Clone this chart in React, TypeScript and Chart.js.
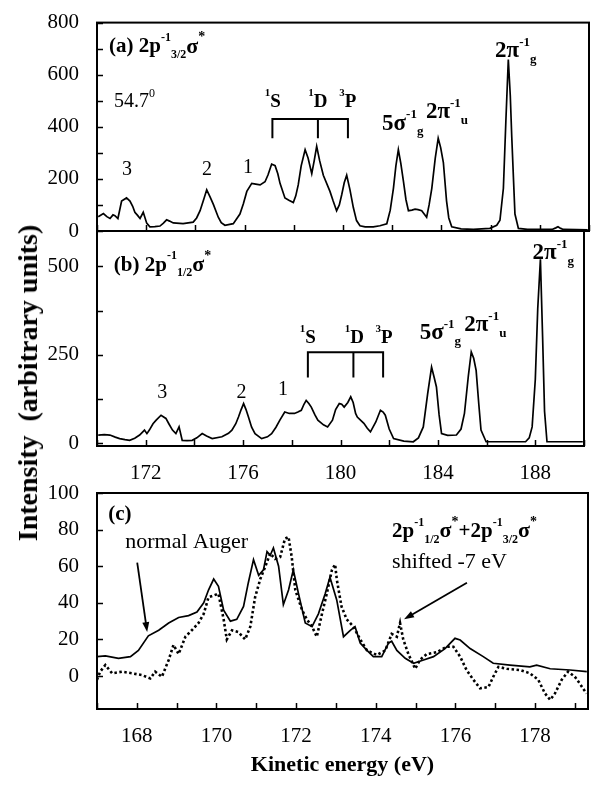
import React, { useEffect, useRef } from 'react';
import { Chart, registerables } from 'chart.js';

Chart.register(...registerables);

const FONT = '"Liberation Serif", "Times New Roman", serif';

// ---------- Panel (a): 2p-1 3/2 sigma* ----------
const energyA = [170.05,170.26,170.4,170.53,170.65,170.73,170.85,171.0,171.2,171.34,171.45,171.54,171.65,171.75,171.88,172.02,172.15,172.35,172.56,172.7,172.83,172.95,173.1,173.5,173.91,174.05,174.19,174.35,174.46,174.6,174.73,174.93,175.05,175.2,175.54,175.81,175.95,176.09,176.29,176.45,176.63,176.83,176.95,177.1,177.24,177.35,177.44,177.64,177.8,177.98,178.08,178.18,178.3,178.46,178.58,178.73,178.83,178.93,179.05,179.2,179.47,179.6,179.74,179.85,179.95,180.05,180.15,180.28,180.42,180.55,180.69,180.9,181.23,181.5,181.78,181.92,182.05,182.15,182.25,182.35,182.46,182.56,182.66,182.8,182.93,183.05,183.2,183.4,183.5,183.61,183.75,183.87,183.97,184.08,184.21,184.3,184.42,184.8,185.3,185.97,186.25,186.38,186.52,186.62,186.72,186.8,186.86,186.93,186.99,187.13,187.5,188.0,188.5,188.65,188.74,188.85,188.95,189.5,189.95];
const intensityA = [55,67,55,48,62,59,48,115,127,115,95,72,60,48,72,30,16,17,19,30,43,38,31,28,34,50,78,125,158,130,102,53,32,22,28,65,105,152,183,180,177,189,215,257,251,220,183,127,118,109,135,177,250,312,280,220,270,325,270,214,152,115,78,100,140,185,214,160,90,40,20,16,16,20,28,80,164,250,312,260,189,120,78,80,84,82,78,53,100,164,280,356,320,263,115,50,16,8,6,10,22,41,164,420,658,520,362,200,65,10,6,6,6,12,16,10,6,5,4];

// ---------- Panel (b): 2p-1 1/2 sigma* ----------
const energyB = [170.05,170.3,170.53,170.75,170.93,171.15,171.34,171.55,171.75,171.85,171.95,172.05,172.15,172.3,172.43,172.63,172.83,172.95,173.1,173.24,173.37,173.5,173.7,173.91,174.1,174.32,174.5,174.73,175.13,175.4,175.54,175.7,175.81,175.92,176.02,176.12,176.22,176.35,176.49,176.76,177.0,177.17,177.35,177.51,177.71,177.9,178.11,178.25,178.39,178.5,178.59,178.7,178.8,178.95,179.07,179.3,179.47,179.67,179.8,179.95,180.05,180.15,180.3,180.42,180.52,180.62,180.69,180.96,181.1,181.23,181.45,181.64,181.75,181.84,182.0,182.18,182.6,182.99,183.2,183.4,183.58,183.74,183.85,183.94,184.05,184.15,184.4,184.76,184.95,185.09,185.25,185.37,185.47,185.57,185.68,185.77,185.98,186.5,187.0,187.6,187.75,187.87,188.0,188.1,188.21,188.3,188.38,188.48,189.0,189.95];
const intensityB = [23,24,23,17,13,10,8,14,23,30,37,27,37,55,65,79,70,55,37,27,46,8,7,8,15,27,20,13,18,28,37,55,74,95,112,95,74,45,27,13,18,27,45,65,88,84,84,88,93,110,121,112,102,80,65,52,46,65,95,112,110,102,115,131,115,84,74,56,42,32,60,93,88,79,40,13,6,4,15,46,140,215,185,159,80,27,22,23,40,84,190,258,240,206,110,37,4,4,4,4,15,46,180,380,520,300,90,4,4,4];

// ---------- Panel (c): normal Auger (solid) and shifted sum (dotted) ----------
const energyAuger = [167.0,167.21,167.54,167.84,168.04,168.29,168.55,168.8,169.05,169.3,169.51,169.68,169.8,169.93,170.05,170.18,170.35,170.51,170.68,170.8,170.93,171.06,171.18,171.27,171.35,171.43,171.56,171.68,171.81,171.93,172.06,172.23,172.4,172.56,172.73,172.85,173.02,173.19,173.36,173.48,173.61,173.78,173.94,174.15,174.32,174.4,174.53,174.74,174.95,175.2,175.45,175.74,175.99,176.12,176.37,176.7,176.95,177.37,177.87,178.04,178.38,178.88,179.3];
const intensityAuger = [10.6,11,9.7,10.6,14,22,25,29,32,33,35,40,47,53,49,36,30,31,38,51,63.6,55,58,68,66,70,60,39,47,58,45,29,27,34,45,54,41.6,21.5,25,27,18,14,10.6,10.6,18,19,14,9.7,7,8.8,10.6,15,20.6,19.7,15,10.6,7,6,5,6,4,3.3,2.4];
const energyShifted = [167.0,167.08,167.21,167.38,167.63,167.88,168.13,168.34,168.46,168.63,168.8,168.92,169.05,169.22,169.38,169.55,169.68,169.8,169.93,170.05,170.18,170.26,170.39,170.55,170.72,170.85,170.97,171.1,171.23,171.35,171.47,171.6,171.72,171.81,171.89,171.98,172.15,172.27,172.4,172.52,172.65,172.77,172.9,172.98,173.02,173.14,173.27,173.44,173.61,173.78,174.03,174.24,174.4,174.53,174.61,174.69,174.82,174.99,175.11,175.28,175.53,175.78,175.95,176.12,176.28,176.45,176.62,176.83,176.95,177.08,177.29,177.62,177.87,178.08,178.25,178.38,178.5,178.67,178.83,179.0,179.12,179.29];
const intensityShifted = [-2,2.4,6,1.5,2.4,1.5,0.5,-1.3,2.4,-0.4,8.8,17,12,21.5,25,29,34,43,44,45,31,20,25,24,20,27,43,53,60,67,64,65,75,76,65,47,36,31,27,21.5,34,45,58,61,53,38,31,27,20,14,11.5,14,23,21.5,29,20,12,4,8.8,12,13,16,16,10.6,3.3,-2,-6.7,-6,-0.4,5,4,3.3,1.5,-2,-9.5,-13,-9.5,-2,2.4,-0.4,-4,-9.5];

// ---------- ticks ----------
const xTicksAB = [170,172,174,176,178,180,182,184,186,188,190];
const xLabelsAB = [172,176,180,184,188];
const yTicksA = [0,100,200,300,400,500,600,700,800];
const yLabelsA = [0,200,400,600,800];
const yTicksB = [0,125,250,375,500];
const yLabelsB = [0,250,500];
const xTicksC = [167,168,169,170,171,172,173,174,175,176,177,178,179];
const xLabelsC = [168,170,172,174,176,178];
const yTicksC = [0,20,40,60,80,100];
const yLabelsC = [0,20,40,60,80,100];

type Part = { t: string; s: number; b?: boolean; dy?: number };
const big = (t: string, s = 21): Part => ({ t, s, b: true });
const reg = (t: string, s = 21): Part => ({ t, s });
const sup = (t: string, s = 12): Part => ({ t, s, b: true, dy: -9 });
const sub = (t: string, s = 12): Part => ({ t, s, b: true, dy: 8 });

type Note = { x: number; y: number; parts: Part[]; align?: 'left' | 'center' };
type Bracket = { xs: number[]; top: number; bottom: number };
type Arrow = { x0: number; y0: number; x1: number; y1: number };

const notesA: Note[] = [
  { x: 170.49, y: 707, parts: [big('(a) 2p'), sup('-1'), sub('3/2'), big('σ', 22), sup('*', 14)] },
  { x: 170.69, y: 496, parts: [reg('54.7', 20), { t: '0', s: 12, dy: -8 }] },
  { x: 171.22, y: 237, parts: [reg('3', 20)], align: 'center' },
  { x: 174.47, y: 237, parts: [reg('2', 20)], align: 'center' },
  { x: 176.14, y: 244, parts: [reg('1', 20)], align: 'center' },
  { x: 177.15, y: 493, parts: [sup('1', 11), big('S', 19)], align: 'center' },
  { x: 178.98, y: 493, parts: [sup('1', 11), big('D', 19)], align: 'center' },
  { x: 180.2, y: 493, parts: [sup('3', 11), big('P', 19)], align: 'center' },
  { x: 181.59, y: 411, parts: [big('5σ', 23), sup('-1', 13), sub('g', 13)] },
  { x: 183.37, y: 456, parts: [big('2π', 23), sup('-1', 13), sub('u', 13)] },
  { x: 186.18, y: 689, parts: [big('2π', 23), sup('-1', 13), sub('g', 13)] },
];
const bracketsA: Bracket[] = [{ xs: [177.13, 178.98, 180.2], top: 430, bottom: 356 }];

const notesB: Note[] = [
  { x: 170.69, y: 503, parts: [big('(b) 2p'), sup('-1'), sub('1/2'), big('σ', 22), sup('*', 14)] },
  { x: 172.68, y: 144, parts: [reg('3', 20)], align: 'center' },
  { x: 175.93, y: 144, parts: [reg('2', 20)], align: 'center' },
  { x: 177.64, y: 150, parts: [reg('1', 20)], align: 'center' },
  { x: 178.66, y: 297, parts: [sup('1', 11), big('S', 19)], align: 'center' },
  { x: 180.57, y: 297, parts: [sup('1', 11), big('D', 19)], align: 'center' },
  { x: 181.79, y: 297, parts: [sup('3', 11), big('P', 19)], align: 'center' },
  { x: 183.25, y: 311, parts: [big('5σ', 23), sup('-1', 13), sub('g', 13)] },
  { x: 185.08, y: 333, parts: [big('2π', 23), sup('-1', 13), sub('u', 13)] },
  { x: 187.89, y: 537, parts: [big('2π', 23), sup('-1', 13), sub('g', 13)] },
];
const bracketsB: Bracket[] = [{ xs: [178.66, 180.53, 181.75], top: 257, bottom: 186 }];

const notesC: Note[] = [
  { x: 167.28, y: 88, parts: [big('(c)')] },
  { x: 167.71, y: 73, parts: [reg('normal Auger', 22)] },
  {
    x: 174.41, y: 79,
    parts: [big('2p'), sup('-1'), sub('1/2'), big('σ', 22), sup('*', 14), big('+2p'), sup('-1'), sub('3/2'), big('σ', 22), sup('*', 14)],
  },
  { x: 174.41, y: 62, parts: [reg('shifted -7 eV', 22)] },
];
const arrowsC: Arrow[] = [
  { x0: 168.01, y0: 62, x1: 168.26, y1: 24 },
  { x0: 176.29, y0: 51, x1: 174.71, y1: 31 },
];

function drawParts(ctx: CanvasRenderingContext2D, x: number, y: number, parts: Part[], align: 'left' | 'center' = 'left') {
  const fontOf = (p: Part) => `${p.b ? 'bold ' : ''}${p.s}px ${FONT}`;
  const widths = parts.map((p) => { ctx.font = fontOf(p); return ctx.measureText(p.t).width; });
  const total = widths.reduce((a, b) => a + b, 0);
  let cx = align === 'center' ? x - total / 2 : x;
  ctx.textAlign = 'left';
  ctx.textBaseline = 'middle';
  ctx.fillStyle = '#000';
  parts.forEach((p, i) => {
    ctx.font = fontOf(p);
    ctx.fillText(p.t, cx, y + (p.dy || 0));
    cx += widths[i];
  });
}

const framePlugin = {
  id: 'frame',
  afterDraw(chart: any, _args: any, opts: any) {
    const { ctx, chartArea: a, scales } = chart;
    ctx.save();
    ctx.strokeStyle = '#000';
    ctx.lineWidth = 2;
    ctx.strokeRect(a.left, a.top, a.right - a.left, a.bottom - a.top);
    ctx.lineWidth = 1.5;
    ctx.beginPath();
    for (const v of opts.xTicks || []) {
      const px = Math.round(scales.x.getPixelForValue(v)) + 0.5;
      ctx.moveTo(px, a.bottom);
      ctx.lineTo(px, a.bottom - 6);
    }
    for (const v of opts.yTicks || []) {
      const py = Math.round(scales.y.getPixelForValue(v)) + 0.5;
      ctx.moveTo(a.left, py);
      ctx.lineTo(a.left + 6, py);
    }
    ctx.stroke();
    ctx.restore();
  },
};

const notesPlugin = {
  id: 'notes',
  afterDatasetsDraw(chart: any, _args: any, opts: any) {
    const { ctx, scales } = chart;
    const X = (v: number) => scales.x.getPixelForValue(v);
    const Y = (v: number) => scales.y.getPixelForValue(v);
    ctx.save();
    ctx.strokeStyle = '#000';
    ctx.fillStyle = '#000';
    ctx.lineWidth = 2;
    for (const b of (opts.brackets || []) as Bracket[]) {
      const yt = Y(b.top), yb = Y(b.bottom);
      ctx.beginPath();
      ctx.moveTo(X(b.xs[0]), yb);
      ctx.lineTo(X(b.xs[0]), yt);
      ctx.lineTo(X(b.xs[b.xs.length - 1]), yt);
      ctx.lineTo(X(b.xs[b.xs.length - 1]), yb);
      for (let i = 1; i < b.xs.length - 1; i++) {
        ctx.moveTo(X(b.xs[i]), yt);
        ctx.lineTo(X(b.xs[i]), yb);
      }
      ctx.stroke();
    }
    for (const ar of (opts.arrows || []) as Arrow[]) {
      const x0 = X(ar.x0), y0 = Y(ar.y0), x1 = X(ar.x1), y1 = Y(ar.y1);
      const ang = Math.atan2(y1 - y0, x1 - x0);
      const L = 10, W = 3.5;
      ctx.lineWidth = 1.8;
      ctx.beginPath();
      ctx.moveTo(x0, y0);
      ctx.lineTo(x1 - Math.cos(ang) * L * 0.8, y1 - Math.sin(ang) * L * 0.8);
      ctx.stroke();
      ctx.beginPath();
      ctx.moveTo(x1, y1);
      ctx.lineTo(x1 - Math.cos(ang) * L - Math.sin(ang) * W, y1 - Math.sin(ang) * L + Math.cos(ang) * W);
      ctx.lineTo(x1 - Math.cos(ang) * L + Math.sin(ang) * W, y1 - Math.sin(ang) * L - Math.cos(ang) * W);
      ctx.closePath();
      ctx.fill();
    }
    for (const n of (opts.notes || []) as Note[]) {
      drawParts(ctx, X(n.x), Y(n.y), n.parts, n.align || 'left');
    }
    ctx.restore();
  },
};

function axis(min: number, max: number, ticks: number[], labels: number[], size: number, horizontal: boolean, padding: number, extra: any = {}) {
  return {
    type: 'linear',
    min,
    max,
    afterBuildTicks: (s: any) => { s.ticks = ticks.map((v) => ({ value: v })); },
    afterFit: (s: any) => { if (horizontal) s.height = size; else s.width = size; },
    ticks: {
      display: labels.length > 0,
      autoSkip: false,
      maxRotation: 0,
      padding,
      color: '#000',
      font: { family: FONT, size: 21 },
      callback: (v: any) => (labels.includes(Number(v)) ? String(v) : ''),
    },
    grid: { display: false },
    border: { display: false },
    ...extra,
  };
}

function lineSet(xs: number[], ys: number[], dashed = false) {
  return {
    data: xs.map((x, i) => ({ x, y: ys[i] })),
    borderColor: '#000',
    borderWidth: dashed ? 2.6 : 1.7,
    borderDash: dashed ? [2.5, 2.5] : [],
    pointRadius: 0,
    fill: false,
    tension: 0,
  };
}

function baseOptions(padding: any, scales: any, plugins: any) {
  return {
    responsive: false,
    animation: false,
    events: [],
    layout: { padding },
    scales,
    plugins: { legend: { display: false }, tooltip: { enabled: false }, ...plugins },
  };
}

export default function App() {
  const refA = useRef<HTMLCanvasElement>(null);
  const refB = useRef<HTMLCanvasElement>(null);
  const refC = useRef<HTMLCanvasElement>(null);

  useEffect(() => {
    const chartA = new Chart(refA.current as HTMLCanvasElement, {
      type: 'line',
      data: { datasets: [lineSet(energyA, intensityA)] },
      options: baseOptions(
        { top: 15, right: 2, bottom: 785 - 231, left: 0 },
        {
          x: axis(170, 190, xTicksAB, [], 0, true, 0),
          y: axis(0, 800, yTicksA, yLabelsA, 97, false, 10),
        },
        { frame: { xTicks: xTicksAB, yTicks: yTicksA }, notes: { notes: notesA, brackets: bracketsA } },
      ),
      plugins: [framePlugin, notesPlugin],
    } as any);

    const chartB = new Chart(refB.current as HTMLCanvasElement, {
      type: 'line',
      data: { datasets: [lineSet(energyB, intensityB)] },
      options: baseOptions(
        { top: 231, right: 2, bottom: 785 - 446 - 40, left: 0 },
        {
          x: axis(170, 190, xTicksAB, xLabelsAB, 40, true, 7),
          y: axis(-8, 600, yTicksB, yLabelsB, 97, false, 10),
        },
        { frame: { xTicks: xTicksAB, yTicks: yTicksB }, notes: { notes: notesB, brackets: bracketsB } },
      ),
      plugins: [framePlugin, notesPlugin],
    } as any);

    const chartC = new Chart(refC.current as HTMLCanvasElement, {
      type: 'line',
      data: { datasets: [lineSet(energyAuger, intensityAuger), lineSet(energyShifted, intensityShifted, true)] },
      options: baseOptions(
        { top: 493, right: 3, bottom: 0, left: 0 },
        {
          x: axis(167, 179.33, xTicksC, xLabelsC, 76, true, 7, {
            title: {
              display: true,
              text: 'Kinetic energy (eV)',
              color: '#000',
              font: { family: FONT, size: 22, weight: 'bold' },
              padding: { top: 0, bottom: 6 },
            },
          }),
          y: axis(-18, 100, yTicksC, yLabelsC, 97, false, 10),
        },
        { frame: { xTicks: xTicksC, yTicks: yTicksC }, notes: { notes: notesC, arrows: arrowsC } },
      ),
      plugins: [framePlugin, notesPlugin],
    } as any);

    return () => {
      chartA.destroy();
      chartB.destroy();
      chartC.destroy();
    };
  }, []);

  const cs: React.CSSProperties = { position: 'absolute', left: 0, top: 0 };
  return (
    <div style={{ position: 'absolute', left: 0, top: 0, width: 591, height: 785, background: '#fff', overflow: 'hidden' }}>
      <canvas ref={refA} width={591} height={785} style={cs} />
      <canvas ref={refB} width={591} height={785} style={cs} />
      <canvas ref={refC} width={591} height={785} style={cs} />
      <div
        style={{
          position: 'absolute',
          left: 28,
          top: 383,
          transform: 'translate(-50%, -50%) rotate(-90deg)',
          font: `bold 28px ${FONT}`,
          whiteSpace: 'pre',
          color: '#000',
        }}
      >
        Intensity  (arbitrary units)
      </div>
    </div>
  );
}
